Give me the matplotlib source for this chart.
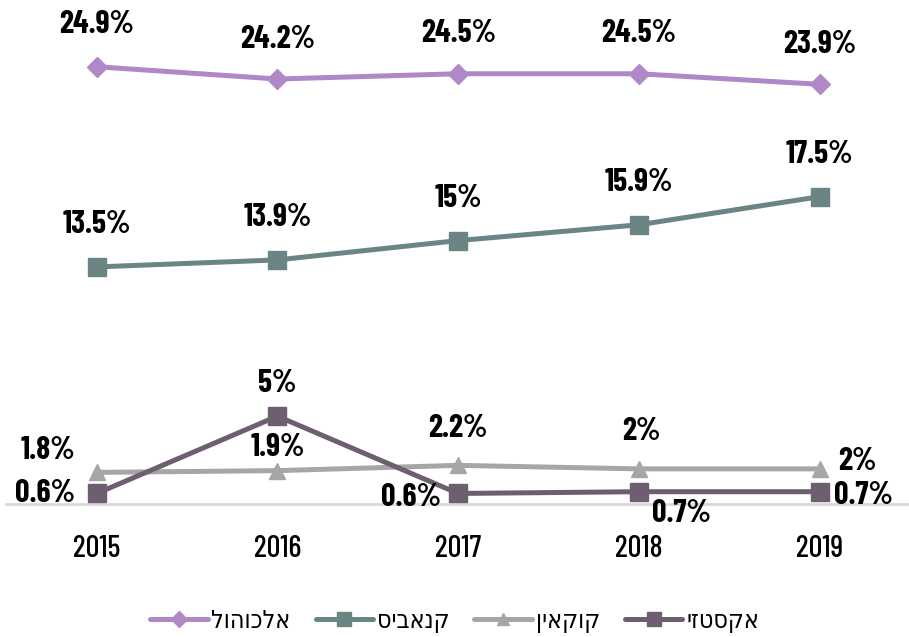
import matplotlib
matplotlib.use("Agg")
import matplotlib.pyplot as plt
from matplotlib.lines import Line2D

NUM_FONT = ['Barlow Condensed', 'DejaVu Sans']
HEB_FONT = ['DejaVu Sans']

years = ["2015", "2016", "2017", "2018", "2019"]
alcohol = [24.9, 24.2, 24.5, 24.5, 23.9]
cannabis = [13.5, 13.9, 15.0, 15.9, 17.5]
cocaine = [1.8, 1.9, 2.2, 2.0, 2.0]
ecstasy = [0.6, 5.0, 0.6, 0.7, 0.7]
names = ["אלכוהול", "קנאביס", "קוקאין", "אקסטזי"]

series = [
    (alcohol, "#b088c8", "D", 10,
     [(0, 42), (0, 40), (0, 40), (0, 40), (0, 40)]),
    (cannabis, "#6b8484", "s", 12.5,
     [(0, 42), (0, 42), (0, 42), (0, 42), (0, 42)]),
    (cocaine, "#a6a6a6", "^", 11,
     [(-49, 22), (0, 23), (0, 37), (2, 37), (38, 7)]),
    (ecstasy, "#6e5f70", "s", 12.5,
     [(-52, 0), (0, 33), (-47, -4), (43, -22), (44, -4)]),
]

fig = plt.figure(figsize=(9.09, 6.37), dpi=100)
ax = fig.add_axes([0.007, 0.2088, 0.994, 0.7912])
x = list(range(len(years)))

handles = []
for vals, color, marker, ms, offs in series:
    ax.plot(x, vals, color=color, lw=3.6, marker=marker, ms=ms, zorder=3,
            solid_capstyle='round', clip_on=False)
    handles.append(Line2D([0], [0], color=color, lw=3.6, marker=marker, ms=ms * 0.8,
                          solid_capstyle='round'))
    for xi, v, (dx, dy) in zip(x, vals, offs):
        ax.annotate(f"{v:g}%", (xi, v), xytext=(dx, dy), textcoords='offset pixels',
                    ha='center', va='center', fontsize=23, fontweight='bold',
                    family=NUM_FONT, color='black', zorder=5)

ax.set_xlim(-0.5, 4.5)
ax.set_ylim(0, 28.7)
for s in ['top', 'right', 'left']:
    ax.spines[s].set_visible(False)
ax.spines['bottom'].set_color('#d9d9d9')
ax.spines['bottom'].set_linewidth(2)
ax.set_yticks([])
ax.set_xticks(x)
ax.set_xticklabels(years, fontsize=22, family=NUM_FONT, fontweight='medium')
ax.tick_params(axis='x', length=0, pad=22)

leg = fig.legend(handles, [n[::-1] for n in names], loc='center',
                 bbox_to_anchor=(0.5, 0.025), ncol=4, frameon=False,
                 prop={'family': HEB_FONT, 'size': 18, 'stretch': 'condensed'},
                 handlelength=2.3, columnspacing=1.0, handletextpad=0.15)

fig.savefig("out.png", dpi=100)
